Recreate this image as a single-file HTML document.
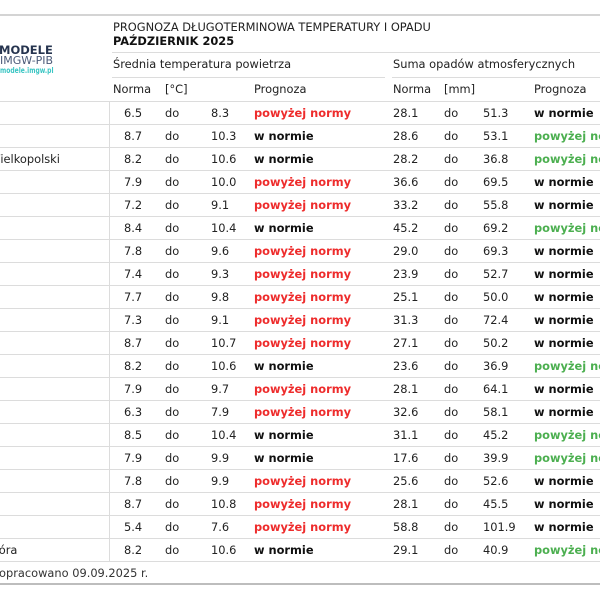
<!DOCTYPE html>
<html><head><meta charset="utf-8">
<style>
html,body{margin:0;padding:0;background:#fff;}
body{width:600px;height:600px;overflow:hidden;position:relative;font-family:"DejaVu Sans","Liberation Sans",sans-serif;font-size:11.4px;color:#222;}
.a{position:absolute;white-space:nowrap;}
.hl{position:absolute;height:1px;background:#dcdcdc;}
.r{position:absolute;left:0;width:600px;height:23px;line-height:23px;overflow:hidden;}
.r span{position:absolute;white-space:nowrap;}
.clip{position:absolute;left:0;top:0;width:105px;height:23px;overflow:hidden;}
.clip span{position:absolute;left:-57px;}
.c1{left:124px}.c2{left:165px}.c3{left:211px}.c4{left:254px}
.c5{left:393px}.c6{left:444px}.c7{left:483px}.c8{left:534px}
.R{color:#ee2c2c;font-weight:bold}
.N{color:#111;font-weight:bold}
.G{color:#4caf50;font-weight:bold}
</style></head><body>

<div class="hl" style="left:0;top:14px;width:600px;height:2px;background:#d4d4d4"></div>

<div class="a" style="left:-1px;top:44px;font-size:11.5px;line-height:12px;font-weight:bold;color:#26344f;">MODELE</div>
<div class="a" style="left:0;top:54.5px;font-size:11px;line-height:11px;color:#4b5a78;">IMGW-PIB</div>
<div class="a" style="left:0;top:67px;font-size:7.5px;line-height:8px;font-weight:bold;color:#3cc6c4;transform:scaleX(0.8);transform-origin:0 0;">modele.imgw.pl</div>

<div class="a" style="left:113px;top:20px;line-height:14px;color:#222;">PROGNOZA DŁUGOTERMINOWA TEMPERATURY I OPADU</div>
<div class="a" style="left:113px;top:34px;line-height:14px;font-weight:bold;color:#111;">PAŹDZIERNIK 2025</div>
<div class="hl" style="left:112px;top:52px;width:488px;"></div>

<div class="a" style="left:113px;top:57px;line-height:14px;">Średnia temperatura powietrza</div>
<div class="a" style="left:393px;top:57px;line-height:14px;width:207px;overflow:hidden;">Suma opadów atmosferycznych</div>
<div class="hl" style="left:112px;top:77px;width:273px;"></div>
<div class="hl" style="left:392px;top:77px;width:208px;"></div>

<div class="a" style="left:113px;top:82px;line-height:14px;">Norma</div>
<div class="a" style="left:165px;top:82px;line-height:14px;">[°C]</div>
<div class="a" style="left:254px;top:82px;line-height:14px;">Prognoza</div>
<div class="a" style="left:393px;top:82px;line-height:14px;">Norma</div>
<div class="a" style="left:444px;top:82px;line-height:14px;">[mm]</div>
<div class="a" style="left:534px;top:82px;line-height:14px;">Prognoza</div>

<div class="hl" style="left:0;top:101px;width:600px;"></div>
<div class="hl" style="left:0;top:124px;width:600px;"></div>
<div class="hl" style="left:0;top:147px;width:600px;"></div>
<div class="hl" style="left:0;top:170px;width:600px;"></div>
<div class="hl" style="left:0;top:193px;width:600px;"></div>
<div class="hl" style="left:0;top:216px;width:600px;"></div>
<div class="hl" style="left:0;top:239px;width:600px;"></div>
<div class="hl" style="left:0;top:262px;width:600px;"></div>
<div class="hl" style="left:0;top:285px;width:600px;"></div>
<div class="hl" style="left:0;top:308px;width:600px;"></div>
<div class="hl" style="left:0;top:331px;width:600px;"></div>
<div class="hl" style="left:0;top:354px;width:600px;"></div>
<div class="hl" style="left:0;top:377px;width:600px;"></div>
<div class="hl" style="left:0;top:400px;width:600px;"></div>
<div class="hl" style="left:0;top:423px;width:600px;"></div>
<div class="hl" style="left:0;top:446px;width:600px;"></div>
<div class="hl" style="left:0;top:469px;width:600px;"></div>
<div class="hl" style="left:0;top:492px;width:600px;"></div>
<div class="hl" style="left:0;top:515px;width:600px;"></div>
<div class="hl" style="left:0;top:538px;width:600px;"></div>
<div class="hl" style="left:0;top:561px;width:600px;"></div>

<div class="a" style="left:109px;top:101px;width:1px;height:461px;background:#dcdcdc;"></div>

<div class="r" style="top:102px"><span class="c1">6.5</span><span class="c2">do</span><span class="c3">8.3</span><span class="c4 R">powyżej normy</span><span class="c5">28.1</span><span class="c6">do</span><span class="c7">51.3</span><span class="c8 N">w normie</span></div>
<div class="r" style="top:125px"><span class="c1">8.7</span><span class="c2">do</span><span class="c3">10.3</span><span class="c4 N">w normie</span><span class="c5">28.6</span><span class="c6">do</span><span class="c7">53.1</span><span class="c8 G">powyżej normy</span></div>
<div class="r" style="top:148px"><div class="clip"><span>Gorzów Wielkopolski</span></div><span class="c1">8.2</span><span class="c2">do</span><span class="c3">10.6</span><span class="c4 N">w normie</span><span class="c5">28.2</span><span class="c6">do</span><span class="c7">36.8</span><span class="c8 G">powyżej normy</span></div>
<div class="r" style="top:171px"><span class="c1">7.9</span><span class="c2">do</span><span class="c3">10.0</span><span class="c4 R">powyżej normy</span><span class="c5">36.6</span><span class="c6">do</span><span class="c7">69.5</span><span class="c8 N">w normie</span></div>
<div class="r" style="top:194px"><span class="c1">7.2</span><span class="c2">do</span><span class="c3">9.1</span><span class="c4 R">powyżej normy</span><span class="c5">33.2</span><span class="c6">do</span><span class="c7">55.8</span><span class="c8 N">w normie</span></div>
<div class="r" style="top:217px"><span class="c1">8.4</span><span class="c2">do</span><span class="c3">10.4</span><span class="c4 N">w normie</span><span class="c5">45.2</span><span class="c6">do</span><span class="c7">69.2</span><span class="c8 G">powyżej normy</span></div>
<div class="r" style="top:240px"><span class="c1">7.8</span><span class="c2">do</span><span class="c3">9.6</span><span class="c4 R">powyżej normy</span><span class="c5">29.0</span><span class="c6">do</span><span class="c7">69.3</span><span class="c8 N">w normie</span></div>
<div class="r" style="top:263px"><span class="c1">7.4</span><span class="c2">do</span><span class="c3">9.3</span><span class="c4 R">powyżej normy</span><span class="c5">23.9</span><span class="c6">do</span><span class="c7">52.7</span><span class="c8 N">w normie</span></div>
<div class="r" style="top:286px"><span class="c1">7.7</span><span class="c2">do</span><span class="c3">9.8</span><span class="c4 R">powyżej normy</span><span class="c5">25.1</span><span class="c6">do</span><span class="c7">50.0</span><span class="c8 N">w normie</span></div>
<div class="r" style="top:309px"><span class="c1">7.3</span><span class="c2">do</span><span class="c3">9.1</span><span class="c4 R">powyżej normy</span><span class="c5">31.3</span><span class="c6">do</span><span class="c7">72.4</span><span class="c8 N">w normie</span></div>
<div class="r" style="top:332px"><span class="c1">8.7</span><span class="c2">do</span><span class="c3">10.7</span><span class="c4 R">powyżej normy</span><span class="c5">27.1</span><span class="c6">do</span><span class="c7">50.2</span><span class="c8 N">w normie</span></div>
<div class="r" style="top:355px"><span class="c1">8.2</span><span class="c2">do</span><span class="c3">10.6</span><span class="c4 N">w normie</span><span class="c5">23.6</span><span class="c6">do</span><span class="c7">36.9</span><span class="c8 G">powyżej normy</span></div>
<div class="r" style="top:378px"><span class="c1">7.9</span><span class="c2">do</span><span class="c3">9.7</span><span class="c4 R">powyżej normy</span><span class="c5">28.1</span><span class="c6">do</span><span class="c7">64.1</span><span class="c8 N">w normie</span></div>
<div class="r" style="top:401px"><span class="c1">6.3</span><span class="c2">do</span><span class="c3">7.9</span><span class="c4 R">powyżej normy</span><span class="c5">32.6</span><span class="c6">do</span><span class="c7">58.1</span><span class="c8 N">w normie</span></div>
<div class="r" style="top:424px"><span class="c1">8.5</span><span class="c2">do</span><span class="c3">10.4</span><span class="c4 N">w normie</span><span class="c5">31.1</span><span class="c6">do</span><span class="c7">45.2</span><span class="c8 G">powyżej normy</span></div>
<div class="r" style="top:447px"><span class="c1">7.9</span><span class="c2">do</span><span class="c3">9.9</span><span class="c4 N">w normie</span><span class="c5">17.6</span><span class="c6">do</span><span class="c7">39.9</span><span class="c8 G">powyżej normy</span></div>
<div class="r" style="top:470px"><span class="c1">7.8</span><span class="c2">do</span><span class="c3">9.9</span><span class="c4 R">powyżej normy</span><span class="c5">25.6</span><span class="c6">do</span><span class="c7">52.6</span><span class="c8 N">w normie</span></div>
<div class="r" style="top:493px"><span class="c1">8.7</span><span class="c2">do</span><span class="c3">10.8</span><span class="c4 R">powyżej normy</span><span class="c5">28.1</span><span class="c6">do</span><span class="c7">45.5</span><span class="c8 N">w normie</span></div>
<div class="r" style="top:516px"><span class="c1">5.4</span><span class="c2">do</span><span class="c3">7.6</span><span class="c4 R">powyżej normy</span><span class="c5">58.8</span><span class="c6">do</span><span class="c7">101.9</span><span class="c8 N">w normie</span></div>
<div class="r" style="top:539px"><div class="clip"><span style="left:-56px">Zielona Góra</span></div><span class="c1">8.2</span><span class="c2">do</span><span class="c3">10.6</span><span class="c4 N">w normie</span><span class="c5">29.1</span><span class="c6">do</span><span class="c7">40.9</span><span class="c8 G">powyżej normy</span></div>

<div class="a" style="left:-1px;top:566px;line-height:14px;color:#333;">opracowano 09.09.2025 r.</div>
<div class="hl" style="left:0;top:583px;width:600px;height:2px;background:#bdbdbd;"></div>

</body></html>
